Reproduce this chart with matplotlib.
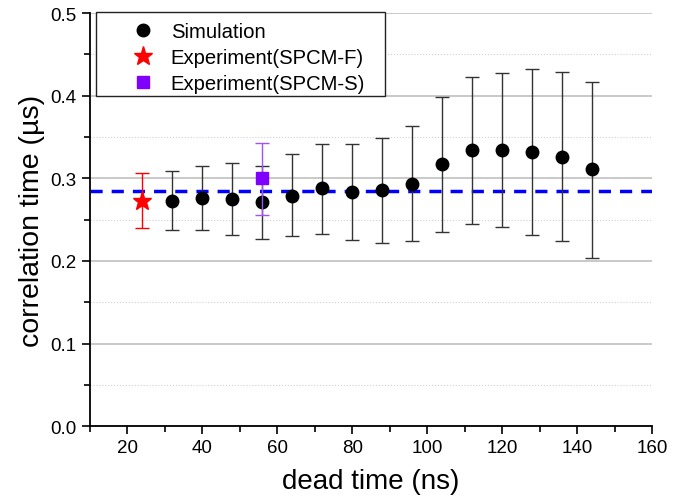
import matplotlib
matplotlib.use("Agg")
import matplotlib.pyplot as plt
from matplotlib.ticker import MultipleLocator
from matplotlib.patches import Rectangle

plt.rcParams['font.family'] = ['Liberation Sans', 'DejaVu Sans']

# Simulation data
sim_x = [32, 40, 48, 56, 64, 72, 80, 88, 96, 104, 112, 120, 128, 136, 144]
sim_y = [0.273, 0.276, 0.275, 0.271, 0.279, 0.288, 0.283, 0.286, 0.293, 0.317, 0.334, 0.334, 0.332, 0.326, 0.311]
sim_hi = [0.309, 0.315, 0.318, 0.315, 0.329, 0.342, 0.341, 0.349, 0.363, 0.399, 0.423, 0.427, 0.432, 0.429, 0.417]
sim_lo = [0.237, 0.237, 0.232, 0.226, 0.230, 0.233, 0.225, 0.222, 0.224, 0.235, 0.245, 0.241, 0.232, 0.224, 0.204]

# Experiments
expF_x = [24]
expF_y = [0.272]
expF_hi = [0.306]
expF_lo = [0.240]

expS_x = [56]
expS_y = [0.300]
expS_hi = [0.343]
expS_lo = [0.255]

ref_level = 0.285

W, H = 690, 502
fig = plt.figure(figsize=(W / 100, H / 100), dpi=100)
ax = fig.add_axes([0.130, 0.149, 0.815, 0.823])

ax.set_xlim(10, 160)
ax.set_ylim(0, 0.5)

ax.yaxis.set_major_locator(MultipleLocator(0.1))
ax.yaxis.set_minor_locator(MultipleLocator(0.05))
ax.xaxis.set_major_locator(MultipleLocator(20))
ax.xaxis.set_minor_locator(MultipleLocator(10))

ax.grid(True, which='major', axis='y', color='#c0c0c0', lw=1.2, ls='-', zorder=0)
ax.grid(True, which='minor', axis='y', color='#d0d0d0', lw=0.8, ls=':', zorder=0)

for s in ['top', 'right']:
    ax.spines[s].set_visible(False)
for s in ['left', 'bottom']:
    ax.spines[s].set_linewidth(1.3)

ax.tick_params(axis='both', which='major', direction='out', length=6, width=1.2, labelsize=13.5)
ax.tick_params(axis='both', which='minor', direction='out', length=4, width=1.2)
ax.yaxis.set_major_formatter(matplotlib.ticker.FormatStrFormatter('%.1f'))

ax.axhline(ref_level, color='#0000ff', lw=2.5, dashes=(3.5, 2.6), zorder=2)

def errs(y, lo, hi):
    return [[a - b for a, b in zip(y, lo)], [c - a for a, c in zip(y, hi)]]

ax.errorbar(sim_x, sim_y, yerr=errs(sim_y, sim_lo, sim_hi), fmt='o', color='black',
            ms=9, ecolor='#333333', elinewidth=1, capsize=5, capthick=1,
            label='Simulation', zorder=4)
ax.errorbar(expF_x, expF_y, yerr=errs(expF_y, expF_lo, expF_hi), fmt='*', color='red',
            ms=14, ecolor='red', elinewidth=1, capsize=5, capthick=1,
            label='Experiment(SPCM-F)', zorder=5)
ax.errorbar(expS_x, expS_y, yerr=errs(expS_y, expS_lo, expS_hi), fmt='s', color='#8000ff',
            ms=9, ecolor='#a050ff', elinewidth=1, capsize=5, capthick=1,
            label='Experiment(SPCM-S)', zorder=5)

# legend box
box = Rectangle((96 / W, 1 - 97 / H), 289 / W, 84 / H, transform=fig.transFigure,
                facecolor='white', edgecolor='#222222', lw=1.0, zorder=6, clip_on=False)
fig.patches.append(box)

handles, labels = ax.get_legend_handles_labels()
handles = [h[0] for h in handles]
leg = fig.legend(handles, labels, loc='upper left', bbox_to_anchor=(124 / W, 1 - 23.5 / H),
                 bbox_transform=fig.transFigure,
                 fontsize=14.6, frameon=False, borderpad=0, handletextpad=0.4,
                 labelspacing=0.34, borderaxespad=0, handlelength=1.9)
leg.set_zorder(7)

ax.set_xlabel('dead time (ns)', fontsize=20, labelpad=8)
ax.set_ylabel('correlation time (\u00b5s)', fontsize=20.5, labelpad=4)

fig.savefig('out.png', dpi=100)
